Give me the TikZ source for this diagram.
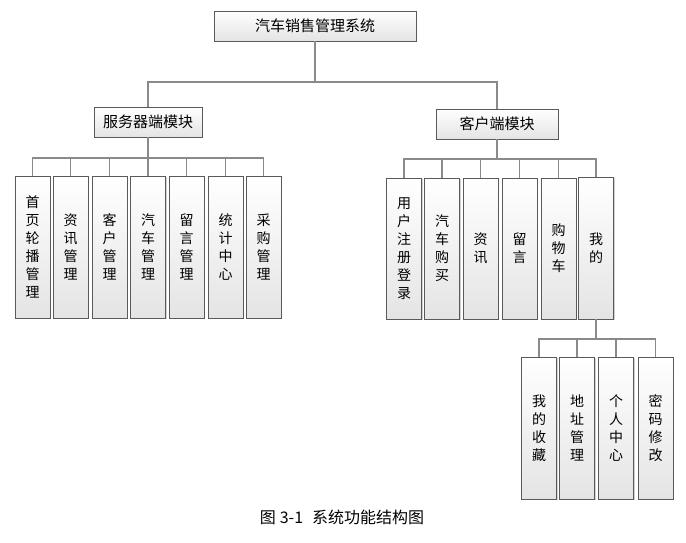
\documentclass[tikz,border=0pt]{standalone}
\usepackage{fontspec}
\setmainfont{Noto Sans CJK SC}
\usetikzlibrary{shadows}
\definecolor{boxborder}{HTML}{5A5A5A}
\definecolor{boxbot}{HTML}{E4E4E4}
\definecolor{linecol}{HTML}{8A8A8A}
\tikzset{
  basebox/.style={draw=boxborder, line width=0.8pt, top color=white, bottom color=boxbot, inner sep=0pt,
    drop shadow={shadow xshift=1.2pt, shadow yshift=-1.2pt, fill=black, opacity=0.18}},
  hbox/.style={basebox, minimum height=30pt, font=\fontsize{15}{17}\selectfont},
  vbox/.style={basebox, minimum width=35pt, minimum height=142pt, align=center, font=\fontsize{14}{18}\selectfont},
  conn/.style={draw=linecol, line width=1.3pt}
}
\begin{document}
\begin{tikzpicture}[x=1pt,y=-1pt]
\useasboundingbox (0,0) rectangle (686,543);
% root
\node[hbox, minimum width=202pt] (root) at (315,26) {汽车销售管理系统};
\node[hbox, minimum width=108pt] (srv) at (148,122) {服务器端模块};
\node[hbox, minimum width=122pt] (cli) at (497,124) {客户端模块};
% server children
\node[vbox] (s1) at (32.5,247) {首\\页\\轮\\播\\管\\理};
\node[vbox] (s2) at (70.5,247) {资\\讯\\管\\理};
\node[vbox] (s3) at (109.5,247) {客\\户\\管\\理};
\node[vbox] (s4) at (148,247) {汽\\车\\管\\理};
\node[vbox] (s5) at (186.5,247) {留\\言\\管\\理};
\node[vbox] (s6) at (225.5,247) {统\\计\\中\\心};
\node[vbox] (s7) at (263.5,247) {采\\购\\管\\理};
% client children
\node[vbox, minimum height=141pt] (c1) at (404,248.5) {用\\户\\注\\册\\登\\录};
\node[vbox, minimum height=141pt] (c2) at (442,248.5) {汽\\车\\购\\买};
\node[vbox, minimum height=141pt] (c3) at (480.5,248.5) {资\\讯};
\node[vbox, minimum height=141pt] (c4) at (519.5,248.5) {留\\言};
\node[vbox, minimum height=141pt] (c5) at (558.5,248.5) {购\\物\\车};
\node[vbox, minimum height=142pt] (c6) at (596,248) {我\\的};
% mine children
\node[vbox] (m1) at (539,428) {我\\的\\收\\藏};
\node[vbox] (m2) at (577,428) {地\\址\\管\\理};
\node[vbox] (m3) at (616,428) {个\\人\\中\\心};
\node[vbox] (m4) at (655.5,428) {密\\码\\修\\改};
% caption
\node[font=\fontsize{16}{18}\selectfont, inner sep=0pt] (cap) at (342,517) {图\hspace{4pt}3-1\hspace{9pt}系统功能结构图};
% bar coordinates
\coordinate (b0) at (0,82);
\coordinate (b1) at (0,158);
\coordinate (b2) at (0,159);
\coordinate (b3) at (0,339);
% connectors
\foreach \t in {srv,cli} \draw[conn] (root.south) -- (root.south |- b0) -| (\t.north);
\foreach \t in {s1,s2,s3,s4,s5,s6,s7} \draw[conn] (srv.south) -- (srv.south |- b1) -| (\t.north);
\foreach \t in {c1,c2,c3,c4,c5,c6} \draw[conn] (cli.south) -- (cli.south |- b2) -| (\t.north);
\foreach \t in {m1,m2,m3,m4} \draw[conn] (c6.south) -- (c6.south |- b3) -| (\t.north);
\end{tikzpicture}
\end{document}
